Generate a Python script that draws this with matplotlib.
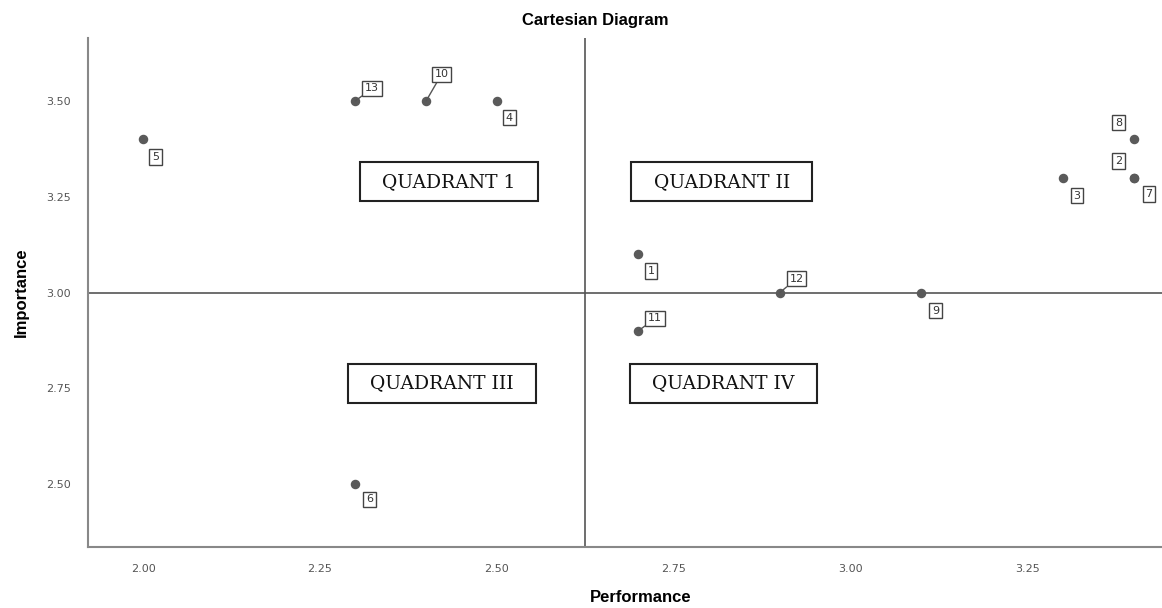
import numpy as np
import matplotlib.pyplot as plt

# data
ids = ["1", "2", "3", "4", "5", "6", "7", "8", "9", "10", "11", "12", "13"]
performance = [2.7, 3.4, 3.3, 2.5, 2.0, 2.3, 3.4, 3.4, 3.1, 2.4, 2.7, 2.9, 2.3]
importance = [3.1, 3.3, 3.3, 3.5, 3.4, 2.5, 3.3, 3.4, 3.0, 3.5, 2.9, 3.0, 3.5]
# label offsets in points (dx, dy)
offsets = [(9, -12), (-11, 12), (10, -13), (9, -12), (9, -13), (10, -11), (11, -12),
           (-11, 12), (10, -13), (11, 19), (12, 9), (12, 10), (12, 9)]
leader = ["10", "11", "12", "13"]

x_ref = 2.624
y_ref = 3.0

quad_text = ["QUADRANT 1", "QUADRANT II", "QUADRANT III", "QUADRANT IV"]
quad_x = [2.432, 2.818, 2.422, 2.82]
quad_y = [3.289, 3.289, 2.763, 2.763]

fig = plt.figure(figsize=(11.62, 6.08), dpi=100)
ax = fig.add_axes([0.0757, 0.1003, 0.9243, 0.8372])

ax.axvline(x_ref, color="#555555", lw=1.2, zorder=1)
ax.axhline(y_ref, color="#555555", lw=1.2, zorder=1)

ax.scatter(performance, importance, s=34, color="#5a5a5a", zorder=3)

for lab, px, py, off in zip(ids, performance, importance, offsets):
    arrow = dict(arrowstyle="-", color="#555555", lw=1.0, shrinkA=0, shrinkB=0) if lab in leader else None
    ax.annotate(lab, (px, py), xytext=off, textcoords="offset points",
                ha="center", va="center", fontsize=8, color="#333333",
                bbox=dict(boxstyle="square,pad=0.25", fc="white", ec="#444444", lw=1.0),
                arrowprops=arrow, zorder=4)

for t, qx, qy in zip(quad_text, quad_x, quad_y):
    ax.text(qx, qy, "  " + t + "  ", ha="center", va="center", fontsize=13.5,
            family="DejaVu Serif", color="#111111",
            bbox=dict(boxstyle="square,pad=0.55", fc="white", ec="#222222", lw=1.5),
            zorder=2)

ax.set_xlim(1.922, 3.44)
ax.set_ylim(2.336, 3.664)
ax.set_xticks([2.0, 2.25, 2.5, 2.75, 3.0, 3.25])
ax.set_xticklabels(["2.00", "2.25", "2.50", "2.75", "3.00", "3.25"])
ax.set_yticks([2.5, 2.75, 3.0, 3.25, 3.5])
ax.set_yticklabels(["2.50", "2.75", "3.00", "3.25", "3.50"])
ax.tick_params(length=0, labelsize=8, colors="#555555", pad=12)

for s in ["top", "right"]:
    ax.spines[s].set_visible(False)
for s in ["left", "bottom"]:
    ax.spines[s].set_color("#888888")
    ax.spines[s].set_linewidth(1.5)

fig.text(0.512, 0.967, "Cartesian Diagram", ha="center", va="center",
         fontsize=12, fontweight="bold", family="Liberation Sans")
fig.text(0.551, 0.018, "Performance", ha="center", va="center",
         fontsize=12, fontweight="bold", family="Liberation Sans")
fig.text(0.018, 0.52, "Importance", ha="center", va="center", rotation=90,
         fontsize=12, fontweight="bold", family="Liberation Sans")

fig.savefig("out.png", dpi=100)
